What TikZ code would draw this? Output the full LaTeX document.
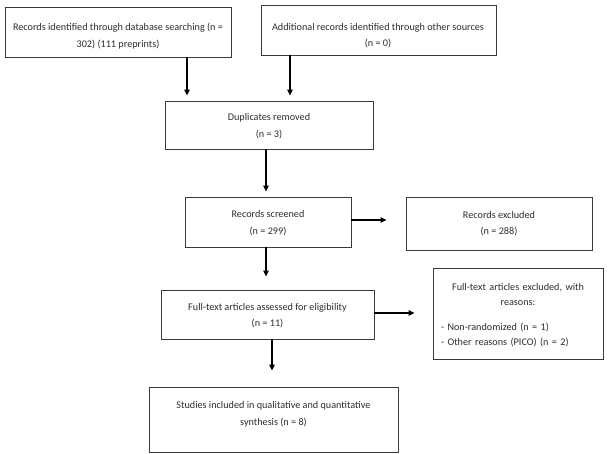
\documentclass[tikz,border=0pt]{standalone}
\usepackage{fontspec}
\setmainfont{Carlito}
\usetikzlibrary{arrows.meta}
\definecolor{txtgray}{HTML}{2E2E2E}
\definecolor{boxline}{HTML}{3A3A3A}
\begin{document}
\begin{tikzpicture}[x=1bp,y=-1bp,
  box/.style={draw=boxline,line width=0.9bp,rectangle,inner sep=0pt},
  txt/.style={text=txtgray,align=center,font=\fontsize{10.2bp}{16.5bp}\selectfont,inner sep=0pt},
  arr/.style={draw=black,line width=1.1bp,-{Triangle[length=6bp,width=5.5bp]}}]
\useasboundingbox[fill=white] (0,0) rectangle (612,454);
% boxes
\node[box,minimum width=226bp,minimum height=50bp] (b1) at (118,32) {};
\node[box,minimum width=235bp,minimum height=50bp] (b2) at (378.5,30) {};
\node[box,minimum width=208bp,minimum height=48bp] (b3) at (269,125) {};
\node[box,minimum width=166bp,minimum height=50bp] (b4) at (268,222) {};
\node[box,minimum width=186bp,minimum height=53bp] (b5) at (499,223.5) {};
\node[box,minimum width=213bp,minimum height=49bp] (b6) at (267.5,314.5) {};
\node[box,minimum width=170bp,minimum height=91bp] (b7) at (518,313.5) {};
\node[box,minimum width=249bp,minimum height=65bp] (b8) at (273.5,419.5) {};
% texts
\node[txt] (t1) at (118,36) {Records identified through database searching (n =\\302) (111 preprints)};
\node[txt] (t2) at (378,35.5) {Additional records identified through other sources\\(n = 0)};
\node[txt] (t3) at (269,126) {Duplicates removed\\(n = 3)};
\node[txt] (t4) at (268,223) {Records screened\\(n = 299)};
\node[txt] (t5) at (499,223.5) {Records excluded\\(n = 288)};
\node[txt] (t6) at (267.5,315.5) {Full-text articles assessed for eligibility\\(n = 11)};
\node[txt,text width=154bp,align=left,font=\fontsize{10.2bp}{15.5bp}\selectfont] (t7) at (518,315) {\centering Full-text articles excluded, with\\reasons:\par\vspace{9bp}\raggedright - Non-randomized (n = 1)\\- Other reasons (PICO) (n = 2)\par};
\node[txt] (t8) at (273.5,414.5) {Studies included in qualitative and quantitative\\synthesis (n = 8)};
% connectors
\draw[arr,shorten >=5bp] ([xshift=69bp]b1.south) -- ([xshift=69bp]b1.south |- b3.north);
\draw[arr,shorten >=5bp] ([xshift=-88.5bp]b2.south) -- ([xshift=-88.5bp]b2.south |- b3.north);
\draw[arr,shorten >=5bp] ([xshift=-3bp]b3.south) -- ([xshift=-3bp]b3.south |- b4.north);
\draw[arr,shorten >=19bp] ([yshift=2bp]b4.east) -- ([yshift=2bp]b4.east -| b5.west);
\draw[arr,shorten >=13bp] ([xshift=-2bp]b4.south) -- ([xshift=-2bp]b4.south |- b6.north);
\draw[arr,shorten >=18bp] ([yshift=1.5bp]b6.east) -- ([yshift=1.5bp]b6.east -| b7.west);
\draw[arr,shorten >=16bp] ([xshift=4.5bp]b6.south) -- ([xshift=4.5bp]b6.south |- b8.north);
\end{tikzpicture}
\end{document}
